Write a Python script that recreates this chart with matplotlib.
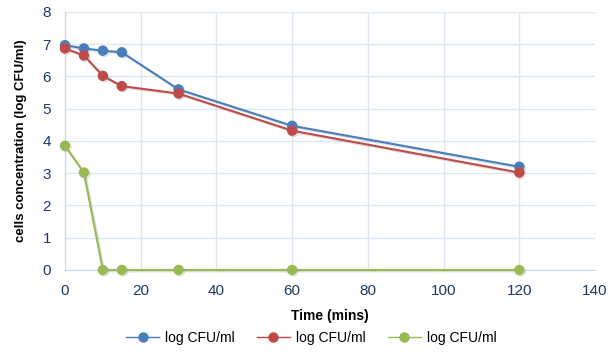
import matplotlib
matplotlib.use("Agg")
import matplotlib.pyplot as plt
import matplotlib.patheffects as pe

time = [0, 5, 10, 15, 30, 60, 120]
series1 = [6.97, 6.87, 6.80, 6.75, 5.60, 4.47, 3.20]
series2 = [6.87, 6.65, 6.02, 5.70, 5.47, 4.32, 3.02]
series3 = [3.85, 3.02, 0.0, 0.0, 0.0, 0.0, 0.0]
labels = ["log CFU/ml", "log CFU/ml", "log CFU/ml"]
colors = ["#4A7EBB", "#BE4B48", "#98B954"]

plt.rcParams['font.family'] = ['Liberation Sans', 'DejaVu Sans']

fig = plt.figure(figsize=(6.16, 3.52), dpi=100)
ax = fig.add_axes([0.1055, 0.233, 0.8605, 0.733])

shadow = [pe.SimpleLineShadow(offset=(1.0, -1.0), shadow_color='gray', alpha=0.25), pe.Normal()]
for ys, c, lab in zip([series1, series2, series3], colors, labels):
    ax.plot(time, ys, color=c, lw=1.5, marker='o', markersize=6.5, markerfacecolor=c,
            markeredgecolor=c, label=lab, path_effects=shadow, clip_on=False, zorder=3)

ax.set_xlim(0, 140)
ax.set_ylim(0, 8)
ax.set_xticks(range(0, 141, 20))
ax.set_yticks(range(0, 9, 1))
ax.grid(True, color='#DCE6F2', lw=1)
ax.set_axisbelow(True)
for s in ['top', 'right']:
    ax.spines[s].set_visible(False)
for s in ['left', 'bottom']:
    ax.spines[s].set_color('#C5D5EA')
ax.tick_params(axis='x', length=0, colors='#1F3864', labelsize=11, pad=10)
ax.tick_params(axis='y', length=0, colors='#1F3864', labelsize=11, pad=10)
ax.set_xlabel("Time (mins)", fontsize=10, fontweight='bold', labelpad=8)
ax.set_ylabel("cells concentration (log CFU/ml)", fontsize=9.5, fontweight='bold', labelpad=11)

leg = fig.legend(loc='lower center', bbox_to_anchor=(0.505, -0.015), ncol=3, frameon=False,
                 fontsize=10, handlelength=2.4, columnspacing=1.6, handletextpad=0.4, markerscale=1.0)
for h in leg.legend_handles:
    h.set_linewidth(1)
    h.set_path_effects([])

fig.savefig("out.png", dpi=100)
